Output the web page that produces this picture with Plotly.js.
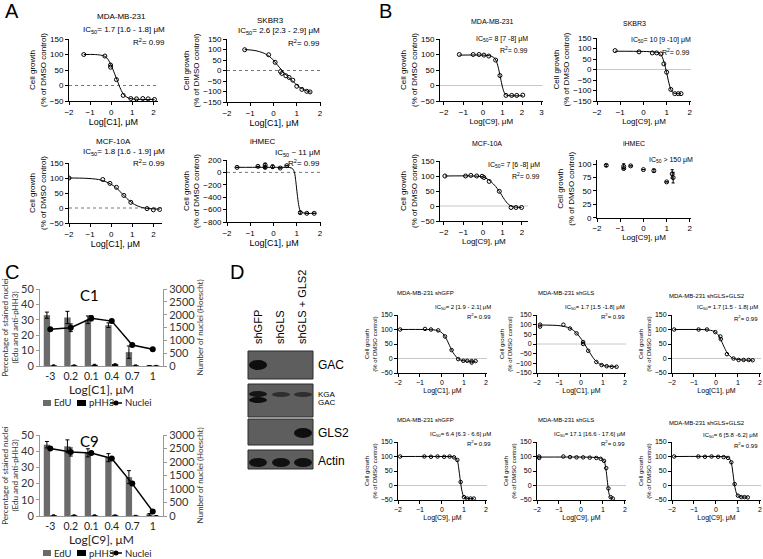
<!DOCTYPE html>
<html><head><meta charset="utf-8">
<script src="https://cdn.plot.ly/plotly-3.0.1.min.js"></script>
<style>html,body{margin:0;padding:0;background:#fff}#chart{width:763px;height:559px}</style>
</head><body><div id="chart"></div>
<script>
// ================= DATA =================
// Panel A (compound C1)
const a1X = [-1.3, -0.3, -0.03, -0.03, 0.25, 0.57, 0.93, 1.2, 1.5, 1.75, 2.05];
const a1Y = [100, 95, 66, 59, 19, -32, -42, -43, -42, -43, -45];
const a1FitX = [-1.3, -0.8, -0.5, -0.3, -0.15, 0, 0.15, 0.3, 0.45, 0.6, 0.8, 1.1, 1.5, 2.05];
const a1FitY = [100, 100, 98, 94, 84, 65, 40, 14, -12, -30, -40, -44, -45, -45];

const a2X = [-1.24, -0.21, 0.07, 0.3, 0.36, 0.53, 0.67, 0.83, 1.0, 1.22, 1.43, 1.57];
const a2Y = [99, 75, 39, -5, -14, -25, -33, -46, -75, -90, -99, -102];
const a2FitX = [-1.24, -0.8, -0.4, -0.1, 0.2, 0.5, 0.8, 1.1, 1.4, 1.6];
const a2FitY = [100, 95, 82, 60, 22, -17, -48, -78, -96, -103];

const a3X = [-2.0, -0.4, -0.06, 0.25, 0.6, 0.93, 1.7, 2.0, 2.3];
const a3Y = [100, 95, 82, 69, 42, 19, -2, -6, -5];
const a3FitX = [-2, -1.2, -0.6, -0.2, 0.2, 0.5, 0.8, 1.1, 1.4, 1.8, 2.3];
const a3FitY = [100, 99, 95, 86, 70, 49, 28, 12, 3, -2, -4];

const a4X = [-1.57, -0.67, -0.36, -0.36, -0.04, 0.29, 0.57, 1.15, 1.43, 1.75];
const a4Y = [81, 97, 119, 81, 92, 70, 108, -649, -660, -660];
const a4Err = [0, 0, 30, 20, 25, 0, 0, 20, 0, 0];
const a4FitX = [-1.57, -0.5, 0.3, 0.7, 0.82, 0.9, 0.96, 1.02, 1.08, 1.15, 1.3, 1.75];
const a4FitY = [82, 82, 82, 78, 60, 0, -150, -350, -520, -620, -655, -660];

// Panel B (compound C9)
const b1X = [-1.21, -0.5, -0.2, 0.05, 0.3, 0.65, 0.87, 1.18, 1.47, 1.73, 2.04];
const b1Y = [100, 100, 100, 98, 95, 82, 32, -32, -32, -32, -31];
const b1FitX = [-1.21, 0, 0.4, 0.6, 0.7, 0.8, 0.9, 1.0, 1.1, 1.2, 1.4, 2.04];
const b1FitY = [98, 98, 95, 88, 76, 54, 24, -5, -24, -31, -33, -33];

const b2X = [-1.22, -0.19, 0.38, 0.57, 0.75, 0.88, 1.0, 1.18, 1.35, 1.5, 1.62];
const b2Y = [90, 84, 79, 79, 74, 27, -13, -95, -115, -115, -115];
const b2FitX = [-1.22, 0, 0.5, 0.7, 0.8, 0.9, 1.0, 1.1, 1.2, 1.3, 1.45, 1.62];
const b2FitY = [87, 86, 83, 77, 62, 30, -15, -65, -100, -112, -115, -115];

const b3X = [-1.95, -0.89, -0.62, -0.32, -0.04, 0.05, 0.32, 0.84, 1.44, 1.69, 1.98];
const b3Y = [100, 100, 102, 100, 99, 95, 82, 49, -5, -5, -5];
const b3FitX = [-1.95, -0.5, 0, 0.3, 0.6, 0.85, 1.1, 1.3, 1.5, 1.98];
const b3FitY = [100, 100, 97, 87, 69, 48, 22, 6, -2, -5];

const b4X = [-1.6, -0.85, -0.85, -0.55, 0, 0.45, 1.0, 1.24, 1.28];
const b4Y = [98, 96, 92, 97, 90, 88, 67, 82, 75];
const b4Err = [2, 5, 0, 0, 0, 3, 0, 8, 10];

// Panel D (C1 top row, C9 bottom row)
const d1X = [-1.9, -0.77, -0.5, -0.17, 0.14, 0.44, 0.74, 0.97, 1.15, 1.35, 1.53, 1.35];
const d1Y = [100, 102, 100, 97, 76, 29, -2, -8, -8, -9, -9, -14];
const d1FitX = [-1.9, -0.8, -0.3, 0, 0.2, 0.35, 0.5, 0.65, 0.8, 1.0, 1.53];
const d1FitY = [100, 100, 98, 89, 68, 44, 21, 6, -4, -8, -10];

const d2X = [-1.86, -1.86, -0.8, -0.5, -0.2, 0.1, 0.1, 0.33, 0.7, 0.94, 1.17, 1.4, 1.62];
const d2Y = [100, 90, 100, 80, 55, 10, 0, -35, -93, -109, -115, -118, -118];
const d2FitX = [-1.86, -1.0, -0.5, -0.2, 0.1, 0.35, 0.6, 0.85, 1.1, 1.62];
const d2FitY = [98, 95, 82, 56, 12, -35, -78, -103, -113, -118];

const d3X = [-1.9, -0.79, -0.41, -0.03, 0.2, 0.22, 0.5, 0.8, 1.03, 1.26, 1.49, 1.67];
const d3Y = [100, 100, 100, 91, 76, 67, 15, 0, -5, -5, -5, -6];
const d3FitX = [-1.9, -0.8, -0.4, -0.1, 0.1, 0.25, 0.4, 0.55, 0.7, 0.9, 1.2, 1.67];
const d3FitY = [100, 100, 99, 94, 82, 60, 35, 15, 4, -2, -5, -6];

const d4X = [-1.9, -0.8, -0.5, -0.2, 0.1, 0.35, 0.55, 0.7, 0.85, 1.0, 1.15, 1.3, 1.45];
const d4Y = [100, 100, 99, 100, 99, 100, 97, 88, 12, -40, -45, -45, -45];
const d4FitX = [-1.9, 0, 0.5, 0.65, 0.72, 0.78, 0.84, 0.9, 0.97, 1.05, 1.45];
const d4FitY = [100, 100, 99, 93, 80, 50, 15, -15, -35, -43, -45];

const d5X = [-1.9, -1.9, -0.8, -0.5, -0.2, 0.1, 0.4, 0.7, 0.9, 1.05, 1.15, 1.25, 1.35, 1.45];
const d5Y = [100, 95, 100, 98, 97, 97, 96, 95, 92, 85, 60, -10, -40, -45];
const d5FitX = [-1.9, 0, 0.6, 0.9, 1.05, 1.12, 1.18, 1.24, 1.3, 1.38, 1.45];
const d5FitY = [98, 98, 97, 94, 85, 65, 30, -10, -35, -44, -45];

const d6X = [-1.9, -0.8, -0.5, -0.2, 0.1, 0.35, 0.55, 0.7, 0.85, 1.0, 1.15, 1.3, 1.45];
const d6Y = [100, 100, 99, 100, 99, 98, 95, 80, 5, -35, -40, -40, -41];
const d6FitX = [-1.9, 0, 0.5, 0.62, 0.7, 0.76, 0.82, 0.88, 0.95, 1.05, 1.45];
const d6FitY = [100, 100, 98, 92, 78, 50, 15, -12, -30, -38, -40];

// Panel C (bar + line charts)
const cCats = ['-3', '0.2', '0.1', '0.4', '0.7', '1'];
const c1EdU = [33, 31.5, 30, 26.5, 9, 0.3];
const c1EdUErr = [2, 4, 2.5, 1.5, 4, 0];
const c1PHH3 = [0.5, 0.5, 0.8, 1.2, 0.5, 0.3];
const c1PHH3Err = [0.2, 0.2, 0.3, 0.3, 0.2, 0.1];
const c1Nuclei = [1430, 1490, 1860, 1750, 820, 650];
const c1NucleiErr = [40, 150, 100, 50, 40, 30];
const c9EdU = [44, 43, 39, 36, 24, 1];
const c9EdUErr = [2, 4, 2.5, 2.5, 4, 0.5];
const c9PHH3 = [0.5, 0.5, 0.5, 0.5, 0.3, 0.2];
const c9PHH3Err = [0.2, 0.2, 0.2, 0.2, 0.1, 0.1];
const c9Nuclei = [2500, 2370, 2330, 2130, 1200, 170];
const c9NucleiErr = [40, 150, 60, 40, 40, 60];

// Labels
const cellLinesA = ['MDA-MB-231', 'SKBR3', 'MCF-10A', 'iHMEC'];
const ic50A = ['IC<sub>50</sub>= 1.7 [1.6 - 1.8] μM', 'IC<sub>50</sub>= 2.6 [2.3 - 2.9] μM', 'IC<sub>50</sub>= 1.8 [1.6 - 1.9] μM', 'IC<sub>50</sub> ~ 11 μM'];
const ic50B = ['IC<sub>50</sub>= 8 [7 -8] μM', 'IC<sub>50</sub>= 10 [9 -10] μM', 'IC<sub>50</sub>= 7 [6 -8] μM', 'IC<sub>50</sub> > 150 μM'];
const cellLinesD = ['MDA-MB-231 shGFP', 'MDA-MB-231 shGLS', 'MDA-MB-231 shGLS+GLS2'];
const ic50D = ['IC<sub>50</sub>= 2 [1.9 - 2.1] μM', 'IC<sub>50</sub>= 1.7 [1.5 -1.8] μM', 'IC<sub>50</sub>= 1.7 [1.5 - 1.8] μM',
               'IC<sub>50</sub>= 6.4 [6.3 - 6.6] μM', 'IC<sub>50</sub>= 17.1 [16.6 - 17.6] μM', 'IC<sub>50</sub>= 6 [5.8 -6.2] μM'];
const r2Text = 'R<sup>2</sup>= 0.99';
const lanes = ['shGFP', 'shGLS', 'shGLS + GLS2'];
const blotLabels = ['GAC', 'KGA', 'GAC', 'GLS2', 'Actin'];
const legendC = ['EdU', 'pHH3', 'Nuclei'];

// ================= BUILD =================
const W = 763, H = 559;
const fx = p => p / W;
const fy = p => 1 - p / H;
const ARIAL = 'Liberation Sans, Arial, sans-serif';
const CAL = 'Lato, Carlito, sans-serif';
const traces = [], shapes = [], annotations = [];
const layout = {
  width: W, height: H, margin: {l: 0, r: 0, t: 0, b: 0},
  paper_bgcolor: '#fff', plot_bgcolor: 'rgba(0,0,0,0)',
  showlegend: false, font: {family: ARIAL, color: '#000', size: 8},
  barmode: 'group', bargap: 0.35, bargroupgap: 0.05,
  shapes: shapes, annotations: annotations
};

function ann(text, x, y, size, xanchor, extra) {
  annotations.push(Object.assign({
    text: text, xref: 'paper', yref: 'paper', x: fx(x), y: fy(y),
    xanchor: xanchor || 'center', yanchor: 'middle', showarrow: false,
    font: {size: size, family: ARIAL, color: '#000'}
  }, extra || {}));
}

function drPlot(c) {
  const xa = c.n === 1 ? 'x' : 'x' + c.n, ya = c.n === 1 ? 'y' : 'y' + c.n;
  const xk = c.n === 1 ? 'xaxis' : 'xaxis' + c.n, yk = c.n === 1 ? 'yaxis' : 'yaxis' + c.n;
  const base = {showline: true, linecolor: '#000', linewidth: 1, ticks: 'outside', ticklen: 3, tickwidth: 1,
    tickcolor: '#000', showgrid: false, zeroline: false, fixedrange: true, tickmode: 'linear', tick0: 0,
    tickfont: {size: c.tick, family: ARIAL, color: '#000'}};
  layout[xk] = Object.assign({}, base, {domain: [fx(c.xd[0]), fx(c.xd[1])], range: c.xr, anchor: ya, dtick: 1,
    title: {text: c.xt, font: {size: c.xtf, family: ARIAL, color: '#000'}, standoff: 2}});
  layout[yk] = Object.assign({}, base, {domain: [fy(c.yd[1]), fy(c.yd[0])], range: c.yr, anchor: xa, dtick: c.ydt,
    title: {text: 'Cell growth<br>(% of DMSO control)', font: {size: c.ytf, family: ARIAL, color: '#000'}, standoff: 2}});
  if (c.zero) shapes.push({type: 'line', xref: xa + ' domain', x0: 0, x1: 1, yref: ya, y0: 0, y1: 0, line: c.zero, layer: 'below'});
  if (c.fx) traces.push({type: 'scatter', mode: 'lines', x: c.fx, y: c.fy, xaxis: xa, yaxis: ya,
    line: {color: '#000', width: 1, shape: 'spline', smoothing: 0.8}, hoverinfo: 'skip'});
  const m = {type: 'scatter', mode: 'markers', x: c.px, y: c.py, xaxis: xa, yaxis: ya,
    marker: {symbol: 'circle-open', size: c.ms || 4, color: '#000', line: {width: 1, color: '#000'}}};
  if (c.err) m.error_y = {type: 'data', array: c.err, color: '#000', thickness: 1, width: 1.5};
  traces.push(m);
  ann(c.title[0], c.title[1], c.title[2], c.tf);
  ann(c.ic[0], c.ic[1], c.ic[2], c.tf, c.ic[3] || 'right');
  if (c.r2) ann(r2Text, c.r2[0], c.r2[1], c.tf, 'right');
}

const dotZero = {color: '#777', width: 1, dash: 'dot'};
const solidZero = {color: '#c8c8c8', width: 1};
const xtC1 = 'Log[C1], μM', xtC9 = 'Log[C9], μM';

// Panel A
drPlot({n: 1, xd: [69, 157.6], xr: [-2, 2.2], yd: [39, 101], yr: [-50, 150], ydt: 50, px: a1X, py: a1Y, fx: a1FitX, fy: a1FitY,
  xt: xtC1, tick: 8, xtf: 9, ytf: 8, tf: 8, zero: dotZero,
  title: [cellLinesA[0], 121, 17], ic: [ic50A[0], 167, 30], r2: [167, 42]});
drPlot({n: 2, xd: [227, 321.2], xr: [-2, 2.05], yd: [39, 102], yr: [-150, 150], ydt: 50, px: a2X, py: a2Y, fx: a2FitX, fy: a2FitY,
  xt: xtC1, tick: 8, xtf: 9, ytf: 8, tf: 8, zero: dotZero,
  title: [cellLinesA[1], 270, 20], ic: [ic50A[1], 322, 31], r2: [322, 43]});
drPlot({n: 3, xd: [69, 161.8], xr: [-2, 2.4], yd: [163, 223], yr: [-50, 150], ydt: 50, px: a3X, py: a3Y, fx: a3FitX, fy: a3FitY,
  xt: xtC1, tick: 8, xtf: 9, ytf: 8, tf: 8, zero: dotZero,
  title: [cellLinesA[2], 113, 141], ic: [ic50A[2], 167, 152], r2: [167, 163]});
drPlot({n: 4, xd: [227, 321.2], xr: [-2, 2.05], yd: [160, 222], yr: [-800, 200], ydt: 200, px: a4X, py: a4Y, err: a4Err, fx: a4FitX, fy: a4FitY,
  xt: xtC1, tick: 8, xtf: 9, ytf: 8, tf: 8, zero: dotZero,
  title: [cellLinesA[3], 263, 141], ic: [ic50A[3], 322, 153], r2: [322, 163]});

// Panel B
drPlot({n: 5, xd: [440, 542.5], xr: [-2.2, 3.05], yd: [39, 101], yr: [-50, 150], ydt: 50, px: b1X, py: b1Y, fx: b1FitX, fy: b1FitY,
  xt: xtC9, tick: 8, xtf: 8, ytf: 8, tf: 7, zero: solidZero,
  title: [cellLinesA[0], 492, 21], ic: [ic50B[0], 530, 39], r2: [530, 50]});
drPlot({n: 6, xd: [597, 691], xr: [-2, 2.05], yd: [38, 101], yr: [-150, 150], ydt: 50, px: b2X, py: b2Y, fx: b2FitX, fy: b2FitY,
  xt: xtC9, tick: 8, xtf: 8, ytf: 8, tf: 7, zero: solidZero,
  title: [cellLinesA[1], 634, 23], ic: [ic50B[1], 693, 40], r2: [692, 52]});
drPlot({n: 7, xd: [440, 527.8], xr: [-2.2, 2.3], yd: [161, 221], yr: [-50, 150], ydt: 50, px: b3X, py: b3Y, fx: b3FitX, fy: b3FitY,
  xt: xtC9, tick: 8, xtf: 8, ytf: 8, tf: 7, zero: solidZero,
  title: [cellLinesA[2], 487, 143], ic: [ic50B[2], 542, 165], r2: [542, 176]});
drPlot({n: 8, xd: [597, 691], xr: [-2, 2.05], yd: [160, 217.7], yr: [0, 108], ydt: 25, px: b4X, py: b4Y, err: b4Err,
  xt: xtC9, tick: 8, xtf: 8, ytf: 8, tf: 7, zero: null,
  title: [cellLinesA[3], 634, 143], ic: [ic50B[3], 695, 160], r2: null});

// Panel D
const dTop = 0, dBot = 127;
const dCols = [[398, 487], [537, 626], [672, 761]];
const dTitleX = [425, 566, 707];
const dRight = [493, 627, 760];
const dPts = [[d1X, d1Y, d1FitX, d1FitY], [d2X, d2Y, d2FitX, d2FitY], [d3X, d3Y, d3FitX, d3FitY],
              [d4X, d4Y, d4FitX, d4FitY], [d5X, d5Y, d5FitX, d5FitY], [d6X, d6Y, d6FitX, d6FitY]];
for (let i = 0; i < 6; i++) {
  const col = i % 3, row = Math.floor(i / 3), off = row ? dBot : dTop;
  const wide = (i === 1);
  const p = dPts[i];
  drPlot({n: 9 + i, xd: dCols[col], xr: [-2, 2.05], yd: [315 + off, 373 + off], yr: wide ? [-150, 150] : [-50, 150],
    ydt: 50, px: p[0], py: p[1], fx: p[2], fy: p[3], ms: 3.5,
    xt: row ? xtC9 : xtC1, tick: 7, xtf: 7, ytf: 6, tf: 6, zero: solidZero,
    title: [cellLinesD[col], dTitleX[col], (col === 2 ? 296 : 293) + off], ic: [ic50D[i], dRight[col], (col === 2 ? 308 : 307) + off],
    r2: [dRight[col], (col === 2 ? 318 : 316) + off]});
}

// Panel C
function cPlot(nx, ny, ny2, top, bot, edu, eduErr, phh, phhErr, nuc, nucErr, title, xt, legY) {
  const xa = 'x' + nx, ya = 'y' + ny, ya2 = 'y' + ny2;
  const tf = {size: 11, family: CAL, color: '#333'};
  layout['xaxis' + nx] = {domain: [fx(40), fx(163)], type: 'category', range: [-0.5, 5.5], anchor: ya,
    showline: true, linecolor: '#999', linewidth: 1, ticks: '', showgrid: false, zeroline: false, fixedrange: true,
    tickfont: {size: 10.5, family: CAL, color: '#222'},
    title: {text: xt, font: {size: 12, family: CAL, color: '#222'}, standoff: 0}};
  layout['yaxis' + ny] = {domain: [fy(bot), fy(top)], range: [0, 50], anchor: xa, tickmode: 'linear', tick0: 0, dtick: 10,
    showline: true, linecolor: '#999', linewidth: 1, ticks: 'outside', ticklen: 3, tickcolor: '#999',
    showgrid: false, zeroline: false, fixedrange: true, tickfont: tf,
    title: {text: 'Percentage of stained nuclei<br>(Edu and anti-pHH3)', font: {size: 8, family: CAL, color: '#333'}, standoff: 3}};
  layout['yaxis' + ny2] = {domain: [fy(bot), fy(top)], range: [0, 3000], anchor: xa, overlaying: ya, side: 'right',
    tickmode: 'linear', tick0: 0, dtick: 500, showline: true, linecolor: '#999', linewidth: 1, ticks: 'outside', ticklen: 3,
    tickcolor: '#999', showgrid: false, zeroline: false, fixedrange: true, tickfont: tf,
    title: {text: 'Number of nuclei (Hoescht)', font: {size: 8, family: CAL, color: '#333'}, standoff: 3}};
  traces.push({type: 'bar', name: legendC[0], x: cCats, y: edu, xaxis: xa, yaxis: ya, marker: {color: '#6b6b6b'},
    error_y: {type: 'data', array: eduErr, color: '#000', thickness: 1, width: 2}});
  traces.push({type: 'bar', name: legendC[1], x: cCats, y: phh, xaxis: xa, yaxis: ya, marker: {color: '#000'},
    error_y: {type: 'data', array: phhErr, color: '#000', thickness: 1, width: 1.5}});
  traces.push({type: 'scatter', mode: 'lines+markers', name: legendC[2], x: cCats, y: nuc, xaxis: xa, yaxis: ya2,
    line: {color: '#000', width: 1.5}, marker: {color: '#000', size: 6},
    error_y: {type: 'data', array: nucErr, color: '#000', thickness: 1, width: 2}});
  annotations.push({text: title, xref: 'paper', yref: 'paper', x: fx(89), y: fy(top + 6), showarrow: false,
    xanchor: 'center', yanchor: 'middle', font: {size: 15, family: CAL, color: '#000'}});
  // legend glyphs
  const cy = legY;
  shapes.push({type: 'rect', xref: 'paper', yref: 'paper', x0: fx(43), x1: fx(51), y0: fy(cy + 3), y1: fy(cy - 3), fillcolor: '#6b6b6b', line: {width: 0}});
  shapes.push({type: 'rect', xref: 'paper', yref: 'paper', x0: fx(77), x1: fx(86), y0: fy(cy + 3), y1: fy(cy - 3), fillcolor: '#000', line: {width: 0}});
  shapes.push({type: 'line', xref: 'paper', yref: 'paper', x0: fx(110), x1: fx(122), y0: fy(cy), y1: fy(cy), line: {color: '#000', width: 1.5}});
  shapes.push({type: 'circle', xref: 'paper', yref: 'paper', x0: fx(113.5), x1: fx(118.5), y0: fy(cy + 2.5), y1: fy(cy - 2.5), fillcolor: '#000', line: {width: 0}});
  const lf = {size: 9.5, family: CAL, color: '#222'};
  annotations.push({text: legendC[0], xref: 'paper', yref: 'paper', x: fx(52), y: fy(cy), xanchor: 'left', yanchor: 'middle', showarrow: false, font: lf});
  annotations.push({text: legendC[1], xref: 'paper', yref: 'paper', x: fx(86.5), y: fy(cy), xanchor: 'left', yanchor: 'middle', showarrow: false, font: lf});
  annotations.push({text: legendC[2], xref: 'paper', yref: 'paper', x: fx(122.5), y: fy(cy), xanchor: 'left', yanchor: 'middle', showarrow: false, font: lf});
}
cPlot(15, 15, 16, 289, 366, c1EdU, c1EdUErr, c1PHH3, c1PHH3Err, c1Nuclei, c1NucleiErr, 'C1', xtC1, 403);
cPlot(17, 17, 18, 435, 516, c9EdU, c9EdUErr, c9PHH3, c9PHH3Err, c9Nuclei, c9NucleiErr, 'C9', xtC9, 553);

// Western blot (panel D, left)
function prect(x0, y0, x1, y1, fill, line) {
  shapes.push({type: 'rect', xref: 'paper', yref: 'paper', x0: fx(x0), x1: fx(x1), y0: fy(y1), y1: fy(y0),
    fillcolor: fill, line: line || {width: 0}});
}
function pband(x0, y0, x1, y1, fill) {
  shapes.push({type: 'circle', xref: 'paper', yref: 'paper', x0: fx(x0), x1: fx(x1), y0: fy(y1), y1: fy(y0),
    fillcolor: fill, line: {width: 0}});
}
const boxLine = {color: '#2a2a2a', width: 1};
const boxFill = '#5e5e5e';
prect(248, 351, 313, 379, boxFill, boxLine);
prect(248, 384, 313, 417, boxFill, boxLine);
prect(248, 419, 313, 445, boxFill, boxLine);
prect(248, 450, 313, 469, boxFill, boxLine);
pband(249, 360, 267, 370, '#0e0e0e');
pband(249, 391, 267, 397, '#151515');
pband(249, 397, 267, 403, '#0e0e0e');
pband(272, 392, 290, 397, '#2e2e2e');
pband(294, 392, 312, 397, '#2e2e2e');
pband(294, 428, 312, 438, '#0e0e0e');
pband(249, 458, 267, 467, '#111');
pband(272, 458, 290, 467, '#111');
pband(294, 458, 312, 467, '#111');
const laneX = [258, 280, 302];
for (let i = 0; i < 3; i++) {
  annotations.push({text: lanes[i], xref: 'paper', yref: 'paper', x: fx(laneX[i]), y: fy(346), xanchor: 'center', yanchor: 'bottom',
    textangle: -90, showarrow: false, font: {size: 11, family: ARIAL, color: '#000'}});
}
ann(blotLabels[0], 316, 365, 12, 'left');
ann(blotLabels[1], 316, 394, 8, 'left');
ann(blotLabels[2], 316, 403, 8, 'left');
ann(blotLabels[3], 316, 433, 12, 'left');
ann(blotLabels[4], 316, 461, 12, 'left');

// Panel letters
ann('A', 12, 11, 20);
ann('B', 385, 11, 20);
ann('C', 12, 272, 20);
ann('D', 237, 272, 20);

Plotly.newPlot('chart', traces, layout, {displayModeBar: false, staticPlot: true});
</script></body></html>
